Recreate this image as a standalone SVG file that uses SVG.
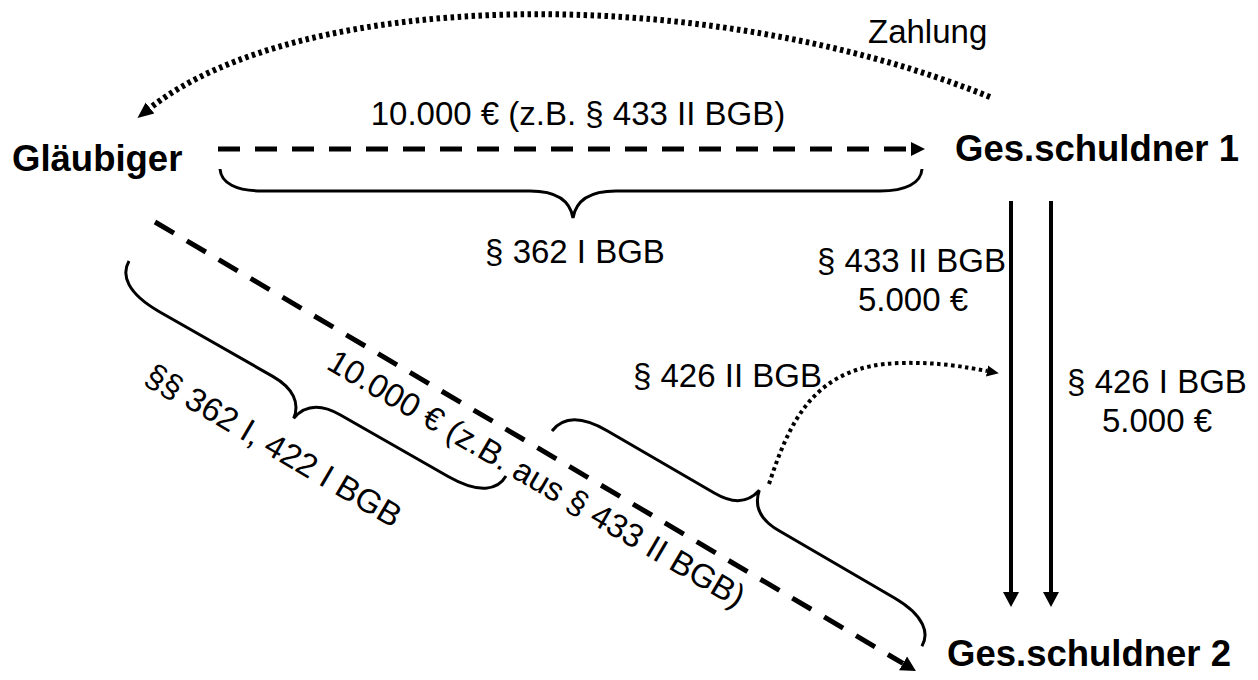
<svg xmlns="http://www.w3.org/2000/svg" width="1258" height="680" viewBox="0 0 1258 680">
  <defs>
    <style>
      .lbl { font-family: "Liberation Sans", Arial, sans-serif; font-size: 33px; fill: #000; }
      .node { font-family: "Liberation Sans", Arial, sans-serif; font-size: 36.5px; font-weight: bold; fill: #000; }
      .dash { fill: none; stroke: #000; stroke-width: 5; stroke-dasharray: 22 15; }
      .solid { fill: none; stroke: #000; stroke-width: 4; }
      .dotbig { fill: none; stroke: #000; stroke-width: 6; stroke-dasharray: 3.5 3.5; }
      .dotsmall { fill: none; stroke: #000; stroke-width: 4; stroke-dasharray: 3.5 3.5; }
      .brace { fill: none; stroke: #000; stroke-width: 3; }
    </style>
    <marker id="headDash" markerUnits="userSpaceOnUse" markerWidth="16" markerHeight="16" viewBox="0 -8 16 16" refX="0" refY="0" orient="auto">
      <path d="M0,-7 L14,0 L0,7 z" fill="#000"/>
    </marker>
    <marker id="headSolid" markerUnits="userSpaceOnUse" markerWidth="16" markerHeight="18" viewBox="0 -9 16 18" refX="0" refY="0" orient="auto">
      <path d="M0,-8 L15,0 L0,8 z" fill="#000"/>
    </marker>
    <marker id="headDot" markerUnits="userSpaceOnUse" markerWidth="18" markerHeight="16" viewBox="0 -8 18 16" refX="0" refY="0" orient="auto">
      <path d="M0,-7 L16,0 L0,7 z" fill="#000"/>
    </marker>
    <marker id="headDotSmall" markerUnits="userSpaceOnUse" markerWidth="14" markerHeight="12" viewBox="0 -6 14 12" refX="0" refY="0" orient="auto">
      <path d="M0,-5.5 L12,0 L0,5.5 z" fill="#000"/>
    </marker>
  </defs>
  <rect width="1258" height="680" fill="#fff"/>

  <g id="connectors">
    <path id="zahlung-arrow" class="dotbig" d="M990,97 C700,-20 300,-10 150,108" marker-end="url(#headDot)"/>
    <path id="g-gs1" class="dash" d="M218,149 L911,149" marker-end="url(#headDash)"/>
    <path id="g-gs2" class="dash" d="M155,222 L903,663.4" marker-end="url(#headSolid)"/>
    <path id="gs1-gs2-a" class="solid" d="M1011,201 L1011,592" marker-end="url(#headSolid)"/>
    <path id="gs1-gs2-b" class="solid" d="M1051,201 L1051,592" marker-end="url(#headSolid)"/>
    <path id="regress-arrow" class="dotsmall" d="M769,484 C790,420 815,365 900,363 C940,362 965,367 987,371" marker-end="url(#headDotSmall)"/>
  </g>

  <g id="braces">
    <path id="brace-top" class="brace" d="M220,169 C221,183 236,191 262,191 L530,191 C556,191 570,200 573,218 C576,200 590,191 616,191 L880,191 C906,191 921,183 922,169"/>
    <path id="brace-left" class="brace" transform="translate(129,261) rotate(29.7)" d="M0,0 C0,16 14,29 52,29 L182,29 C206,29 219,39 221,55 C224,39 236,29 260,29 L384,29 C420,29 434,16 434,0"/>
    <path id="brace-right" class="brace" transform="translate(552,431) rotate(30.2)" d="M0,0 C2,-16 14,-28 48,-28 L172,-28 C196,-28 206,-38 209,-53 C212,-38 222,-28 246,-28 L380,-28 C416,-28 428,-14 428,0"/>
  </g>

  <g id="glaeubiger"><text class="node" x="12" y="171">Gläubiger</text></g>
  <g id="gesamtschuldner1"><text class="node" x="955" y="161">Ges.schuldner 1</text></g>
  <g id="gesamtschuldner2"><text class="node" x="947" y="666">Ges.schuldner 2</text></g>

  <g id="labels">
    <text class="lbl" x="868" y="43">Zahlung</text>
    <text class="lbl" x="578" y="125" text-anchor="middle">10.000 € (z.B. § 433 II BGB)</text>
    <text class="lbl" x="575" y="263" text-anchor="middle">§ 362 I BGB</text>
    <text class="lbl" x="1006" y="272" text-anchor="end">§ 433 II BGB</text>
    <text class="lbl" x="913" y="311" text-anchor="middle">5.000 €</text>
    <text class="lbl" x="633" y="387">§ 426 II BGB</text>
    <text class="lbl" x="1157" y="393" text-anchor="middle">§ 426 I BGB</text>
    <text class="lbl" x="1157" y="432" text-anchor="middle">5.000 €</text>
    <text class="lbl" transform="translate(325,368) rotate(30.3)">10.000 € (z.B. aus § 433 II BGB)</text>
    <text class="lbl" transform="translate(143,382) rotate(30.3)">§§ 362 I, 422 I BGB</text>
  </g>
</svg>
